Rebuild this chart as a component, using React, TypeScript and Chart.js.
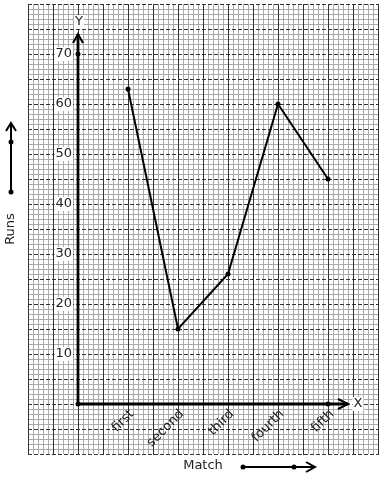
import React, { useEffect, useRef } from "react";
import { Chart, registerables } from "chart.js";

Chart.register(...registerables);

const categories = ["first", "second", "third", "fourth", "fifth"];
const runs = [63, 15, 26, 60, 45];
const yTickLabels = [10, 20, 30, 40, 50, 60, 70];
const axisMarks = [
  { x: 0, y: 70 },
  { x: 0, y: 0 },
  { x: 5, y: 0 },
];
const xAxisTitle = "Match";
const yAxisTitle = "Runs";

const FONT = "13px 'DejaVu Sans', sans-serif";

const paperPlugin = {
  id: "paper",
  beforeDatasetsDraw(chart: any) {
    const ctx = chart.ctx as CanvasRenderingContext2D;
    const xs = chart.scales.x;
    const ys = chart.scales.y;
    const ca = chart.chartArea;
    const px = (v: number) => Math.round(xs.getPixelForValue(v)) + 0.5;
    const py = (v: number) => Math.round(ys.getPixelForValue(v)) + 0.5;
    ctx.save();
    ctx.fillStyle = "#fff";
    ctx.fillRect(0, 0, chart.width, chart.height);
    ctx.lineWidth = 1;
    // minor grid
    ctx.strokeStyle = "#aaaaaa";
    ctx.beginPath();
    for (let i = -10; i <= 60; i++) {
      if (i % 5 === 0) continue;
      const x = px(i / 10);
      ctx.moveTo(x, ca.top);
      ctx.lineTo(x, ca.bottom);
    }
    for (let v = -10; v <= 80; v++) {
      if (v % 5 === 0) continue;
      const y = py(v);
      ctx.moveTo(ca.left, y);
      ctx.lineTo(ca.right, y);
    }
    ctx.stroke();
    // major vertical grid (solid)
    ctx.strokeStyle = "#333333";
    ctx.beginPath();
    for (let i = -10; i <= 60; i += 5) {
      const x = px(i / 10);
      ctx.moveTo(x, ca.top);
      ctx.lineTo(x, ca.bottom + 1);
    }
    ctx.stroke();
    // major horizontal grid (dashed)
    ctx.setLineDash([4, 2]);
    ctx.beginPath();
    for (let v = -10; v <= 80; v += 5) {
      const y = py(v);
      ctx.moveTo(ca.left, y);
      ctx.lineTo(ca.right, y);
    }
    ctx.stroke();
    ctx.setLineDash([]);

    // axes
    const ox = xs.getPixelForValue(0);
    const oy = ys.getPixelForValue(0);
    const yTop = ys.getPixelForValue(74);
    const xEnd = xs.getPixelForValue(5.4);
    ctx.strokeStyle = "#000";
    ctx.lineWidth = 2.8;
    ctx.beginPath();
    ctx.moveTo(ox, oy);
    ctx.lineTo(ox, yTop);
    ctx.moveTo(ox, oy);
    ctx.lineTo(xEnd, oy);
    ctx.stroke();
    ctx.lineWidth = 2;
    ctx.beginPath();
    ctx.moveTo(ox - 5, yTop + 9);
    ctx.lineTo(ox, yTop);
    ctx.lineTo(ox + 5, yTop + 9);
    ctx.moveTo(xEnd - 10, oy - 5);
    ctx.lineTo(xEnd, oy);
    ctx.lineTo(xEnd - 10, oy + 5);
    ctx.stroke();

    ctx.font = FONT;
    ctx.textBaseline = "middle";
    const boxText = (t: string, x: number, y: number, align: CanvasTextAlign) => {
      ctx.textAlign = align;
      const w = ctx.measureText(t).width;
      let left = x;
      if (align === "right") left = x - w;
      else if (align === "center") left = x - w / 2;
      ctx.fillStyle = "#fff";
      ctx.fillRect(left - 1, y - 7, w + 2, 14);
      ctx.fillStyle = "#222";
      ctx.fillText(t, x, y);
    };
    boxText("Y", ox + 1, yTop - 12, "center");
    boxText("X", xEnd + 10, oy, "center");
    yTickLabels.forEach((v) => {
      boxText(String(v), ox - 6, ys.getPixelForValue(v), "right");
    });
    // category labels
    ctx.fillStyle = "#222";
    categories.forEach((c, i) => {
      const x = xs.getPixelForValue(i + 1);
      ctx.save();
      ctx.translate(x + 4, oy + 8);
      ctx.rotate(-Math.PI / 4);
      ctx.textAlign = "right";
      ctx.textBaseline = "middle";
      ctx.fillText(c, 0, 0);
      ctx.restore();
    });

    // outside titles
    ctx.textAlign = "center";
    ctx.fillText(xAxisTitle, 203, 466);
    ctx.save();
    ctx.translate(11, 229);
    ctx.rotate(-Math.PI / 2);
    ctx.fillText(yAxisTitle, 0, 0);
    ctx.restore();

    // decorative arrows
    ctx.strokeStyle = "#000";
    ctx.fillStyle = "#000";
    ctx.lineWidth = 2;
    ctx.beginPath();
    ctx.moveTo(11, 192);
    ctx.lineTo(11, 123);
    ctx.moveTo(6, 131);
    ctx.lineTo(11, 123);
    ctx.lineTo(16, 131);
    ctx.moveTo(243, 467);
    ctx.lineTo(315, 467);
    ctx.moveTo(306, 462);
    ctx.lineTo(315, 467);
    ctx.lineTo(306, 472);
    ctx.stroke();
    [
      [11, 192],
      [11, 142],
      [243, 467],
      [294, 467],
    ].forEach(([x, y]) => {
      ctx.beginPath();
      ctx.arc(x, y, 2.5, 0, Math.PI * 2);
      ctx.fill();
    });
    ctx.restore();
  },
};

export default function App() {
  const ref = useRef<HTMLCanvasElement | null>(null);
  useEffect(() => {
    if (!ref.current) return;
    const chart = new Chart(ref.current, {
      type: "line",
      data: {
        datasets: [
          {
            data: runs.map((r, i) => ({ x: i + 1, y: r })),
            borderColor: "#000",
            backgroundColor: "#000",
            borderWidth: 2,
            pointRadius: 2.5,
            pointBackgroundColor: "#000",
            pointBorderWidth: 0,
            tension: 0,
          },
          {
            data: axisMarks,
            showLine: false,
            pointRadius: 2.5,
            pointBackgroundColor: "#000",
            pointBorderWidth: 0,
            borderColor: "#000",
          },
        ],
      },
      options: {
        responsive: false,
        animation: false,
        layout: { padding: { left: 28, top: 4, right: 5, bottom: 26 } },
        plugins: { legend: { display: false }, tooltip: { enabled: false } },
        scales: {
          x: { type: "linear", min: -1, max: 6, display: false },
          y: { type: "linear", min: -10, max: 80, display: false },
        },
      },
      plugins: [paperPlugin],
    });
    return () => chart.destroy();
  }, []);
  return (
    <div style={{ position: "fixed", left: 0, top: 0, width: 383, height: 480 }}>
      <canvas ref={ref} width={383} height={480} />
    </div>
  );
}
